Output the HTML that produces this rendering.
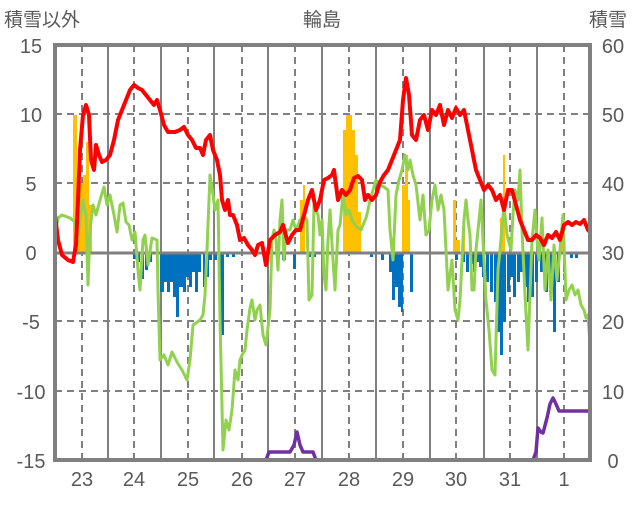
<!DOCTYPE html>
<html><head><meta charset="utf-8"><style>
html,body{margin:0;padding:0;background:#fff;}
svg text{font-family:"Liberation Sans","Noto Sans CJK JP",sans-serif;fill:#595959;}
</style></head><body>
<svg width="636" height="501" viewBox="0 0 636 501" xmlns="http://www.w3.org/2000/svg">
<rect width="636" height="501" fill="#fff"/>
<g stroke="#808080" stroke-width="2" fill="none">
<line x1="108" y1="45" x2="108" y2="460"/><line x1="161" y1="45" x2="161" y2="460"/>
<line x1="214" y1="45" x2="214" y2="460"/><line x1="268" y1="45" x2="268" y2="460"/>
<line x1="322" y1="45" x2="322" y2="460"/><line x1="376" y1="45" x2="376" y2="460"/>
<line x1="430" y1="45" x2="430" y2="460"/><line x1="484" y1="45" x2="484" y2="460"/>
<line x1="537" y1="45" x2="537" y2="460"/>
</g>
<g stroke="#808080" stroke-width="2" stroke-dasharray="7,5" fill="none">
<line x1="82" y1="45" x2="82" y2="460"/><line x1="134" y1="45" x2="134" y2="460"/>
<line x1="188" y1="45" x2="188" y2="460"/><line x1="242" y1="45" x2="242" y2="460"/>
<line x1="295" y1="45" x2="295" y2="460"/><line x1="349" y1="45" x2="349" y2="460"/>
<line x1="403" y1="45" x2="403" y2="460"/><line x1="456" y1="45" x2="456" y2="460"/>
<line x1="510" y1="45" x2="510" y2="460"/><line x1="564" y1="45" x2="564" y2="460"/>
<line x1="55" y1="114" x2="590" y2="114"/><line x1="55" y1="183" x2="590" y2="183"/>
<line x1="55" y1="321" x2="590" y2="321"/><line x1="55" y1="391" x2="590" y2="391"/>
</g>
<g fill="#FFC000">
<rect x="73" y="115" width="4" height="137"/><rect x="77" y="175" width="3" height="77"/>
<rect x="80" y="183" width="3" height="69"/><rect x="83" y="175" width="3" height="77"/>
<rect x="86" y="142" width="3" height="110"/><rect x="89" y="205" width="3" height="47"/>
<rect x="300" y="200" width="3" height="52"/><rect x="303" y="185" width="2" height="67"/>
<rect x="343" y="130" width="3" height="122"/><rect x="346" y="115" width="6" height="137"/>
<rect x="352" y="130" width="3" height="122"/><rect x="355" y="155" width="3" height="97"/>
<rect x="358" y="212" width="3" height="40"/>
<rect x="402" y="185" width="3" height="67"/><rect x="405" y="155" width="3" height="97"/>
<rect x="408" y="200" width="2" height="52"/>
<rect x="453" y="200" width="3" height="52"/><rect x="456" y="240" width="4" height="12"/>
<rect x="463" y="225" width="2" height="27"/>
<rect x="500" y="218" width="3" height="34"/><rect x="503" y="155" width="2" height="97"/>
<rect x="560" y="240" width="4" height="12"/>
</g>
<g fill="#0070C0">
<rect x="133" y="252" width="3" height="7"/><rect x="137" y="252" width="3" height="10"/>
<rect x="141" y="252" width="3" height="27"/><rect x="145" y="252" width="3" height="18"/>
<rect x="149" y="252" width="3" height="10"/>
<rect x="160" y="252" width="4" height="40"/><rect x="164" y="252" width="3" height="30"/>
<rect x="167" y="252" width="3" height="40"/><rect x="170" y="252" width="3" height="30"/>
<rect x="173" y="252" width="3" height="45"/><rect x="176" y="252" width="3" height="65"/>
<rect x="179" y="252" width="4" height="35"/><rect x="183" y="252" width="3" height="40"/>
<rect x="186" y="252" width="3" height="25"/><rect x="189" y="252" width="3" height="35"/>
<rect x="192" y="252" width="3" height="20"/><rect x="195" y="252" width="3" height="40"/>
<rect x="198" y="252" width="3" height="20"/><rect x="203" y="252" width="2" height="35"/>
<rect x="206" y="252" width="3" height="25"/><rect x="209" y="252" width="3" height="8"/>
<rect x="214" y="252" width="3" height="8"/><rect x="220" y="252" width="4" height="83"/>
<rect x="226" y="252" width="3" height="5"/><rect x="232" y="252" width="3" height="5"/>
<rect x="282" y="252" width="4" height="8"/><rect x="293" y="252" width="3" height="17"/>
<rect x="308" y="252" width="3" height="5"/><rect x="313" y="252" width="3" height="5"/>
<rect x="370" y="252" width="3" height="5"/><rect x="381" y="252" width="3" height="8"/>
<rect x="389" y="252" width="3" height="20"/><rect x="392" y="252" width="3" height="48"/>
<rect x="395" y="252" width="3" height="35"/><rect x="398" y="252" width="3" height="55"/>
<rect x="401" y="252" width="2" height="60"/><rect x="410" y="252" width="3" height="40"/>
<rect x="455" y="252" width="3" height="8"/><rect x="462" y="252" width="3" height="10"/>
<rect x="466" y="252" width="3" height="20"/><rect x="470" y="252" width="3" height="12"/>
<rect x="473" y="252" width="3" height="20"/><rect x="476" y="252" width="3" height="10"/>
<rect x="479" y="252" width="3" height="15"/><rect x="482" y="252" width="3" height="25"/>
<rect x="486" y="252" width="3" height="30"/><rect x="490" y="252" width="3" height="40"/>
<rect x="494" y="252" width="3" height="50"/><rect x="497" y="252" width="3" height="80"/>
<rect x="500" y="252" width="3" height="103"/><rect x="503" y="252" width="3" height="70"/>
<rect x="507" y="252" width="3" height="40"/><rect x="510" y="252" width="3" height="25"/>
<rect x="513" y="252" width="3" height="45"/><rect x="517" y="252" width="3" height="30"/>
<rect x="520" y="252" width="3" height="20"/><rect x="524" y="252" width="3" height="35"/>
<rect x="527" y="252" width="3" height="50"/><rect x="531" y="252" width="3" height="45"/>
<rect x="535" y="252" width="3" height="30"/><rect x="540" y="252" width="3" height="20"/>
<rect x="545" y="252" width="3" height="40"/><rect x="550" y="252" width="3" height="30"/>
<rect x="553" y="252" width="3" height="80"/><rect x="557" y="252" width="3" height="30"/>
<rect x="563" y="252" width="3" height="20"/><rect x="570" y="252" width="3" height="6"/>
<rect x="575" y="252" width="3" height="6"/>
</g>
<line x1="55" y1="253" x2="590" y2="253" stroke="#808080" stroke-width="3"/>
<polyline fill="none" stroke="#92D050" stroke-width="3" stroke-linejoin="round" points="55,235 58,218 62,215 70,218 75,222 78,237 80,220 83,200 86,215 88,285 90,230 93,205 96,215 100,200 104,187 107,205 110,195 114,215 117,232 120,205 123,203 126,222 129,225 132,240 135,232 138,270 140,290 143,240 145,235 148,265 152,238 157,240 158,290 160,360 164,355 168,365 172,352 177,362 182,370 187,380 190,360 193,325 196,323 200,320 203,315 205,295 207,250 210,175 213,195 215,210 218,200 220,320 223,450 226,420 229,430 232,410 235,370 238,380 240,360 242,355 245,350 247,330 250,308 252,300 255,320 257,310 260,305 263,335 266,345 270,310 272,240 274,230 276,240 278,270 280,220 282,200 284,260 286,230 290,230 293,220 296,230 300,220 304,215 307,220 309,300 312,295 314,205 316,210 318,215 320,235 322,220 324,275 326,290 328,240 330,210 333,260 335,290 338,230 340,225 343,195 346,215 349,210 352,220 355,225 358,228 361,230 363,225 366,218 368,210 370,200 373,190 376,180 380,185 384,187 388,190 390,230 393,260 396,195 399,180 402,170 405,155 408,170 410,160 413,175 416,185 420,220 423,195 426,235 429,230 432,200 435,185 438,210 441,195 444,210 448,290 452,260 455,310 458,320 460,300 462,260 464,220 466,200 468,220 470,235 472,290 474,290 476,250 479,220 481,200 484,260 486,300 489,330 492,370 495,375 498,270 500,250 504,205 507,235 511,250 513,215 515,190 518,200 520,170 522,230 525,295 528,350 532,240 535,210 537,240 539,260 542,218 545,290 548,250 551,300 554,245 557,280 560,250 563,215 566,300 569,290 572,285 575,295 578,290 581,305 584,310 586,318 588,315 590,345"/>
<polyline fill="none" stroke="#FF0000" stroke-width="4" stroke-linejoin="round" points="55,215 58,240 62,255 68,260 73,262 76,245 78,200 80,150 83,115 86,105 89,115 91,160 94,170 96,145 99,155 102,162 106,160 110,155 114,140 118,120 122,110 126,100 130,90 134,85 138,88 142,90 146,95 150,100 154,105 157,100 160,110 164,125 168,132 175,132 180,130 184,127 188,135 192,140 196,148 200,148 203,155 206,140 210,135 213,150 217,160 220,175 222,200 225,210 228,200 230,215 233,215 237,225 240,240 244,238 248,245 252,250 255,255 258,245 262,243 266,265 270,240 275,235 280,232 283,225 288,243 292,235 296,230 300,230 304,215 308,200 312,190 316,210 320,200 324,180 328,178 332,175 334,170 338,200 342,190 346,195 350,190 354,178 358,176 362,180 365,200 368,195 372,200 376,195 380,182 384,175 388,170 392,160 396,150 400,140 403,100 406,78 409,95 412,135 416,140 420,120 424,115 428,130 432,110 436,115 440,105 444,125 448,110 452,118 456,108 460,115 464,110 468,130 472,150 476,170 480,180 484,190 488,185 492,190 496,200 500,195 504,210 508,190 512,190 516,205 520,220 524,230 528,240 532,240 536,235 540,238 544,245 548,235 552,238 556,232 560,240 564,225 568,222 572,225 576,222 580,224 584,220 588,230 590,232"/>
<polyline fill="none" stroke="#7030A0" stroke-width="3.5" stroke-linejoin="round" points="55,460 266,460 269,452 290,452 294,445 297,432 300,445 303,452 313,452 316,460 533,460 536,452 538,428 541,432 543,433 547,418 550,404 553,398 556,404 559,411 590,411"/>
<rect x="55" y="45" width="535" height="415" fill="none" stroke="#808080" stroke-width="4"/>
<g font-size="20" text-anchor="middle">
<text x="31" y="53">15</text><text x="31" y="122">10</text>
<text x="31" y="191">5</text><text x="31" y="260">0</text>
<text x="31" y="329">-5</text><text x="31" y="399">-10</text>
<text x="31" y="468">-15</text>
<text x="613" y="53">60</text><text x="613" y="122">50</text><text x="613" y="191">40</text>
<text x="613" y="260">30</text><text x="613" y="329">20</text><text x="613" y="399">10</text>
<text x="613" y="468">0</text>
<text x="82" y="486">23</text><text x="134" y="486">24</text>
<text x="188" y="486">25</text><text x="242" y="486">26</text>
<text x="295" y="486">27</text><text x="349" y="486">28</text>
<text x="403" y="486">29</text><text x="456" y="486">30</text>
<text x="510" y="486">31</text><text x="564" y="486">1</text>
<text x="322" y="26" font-size="19">輪島</text>
<text x="608" y="26" font-size="19">積雪</text>
</g>
<text x="4" y="26" font-size="19">積雪以外</text>
</svg>
</body></html>
